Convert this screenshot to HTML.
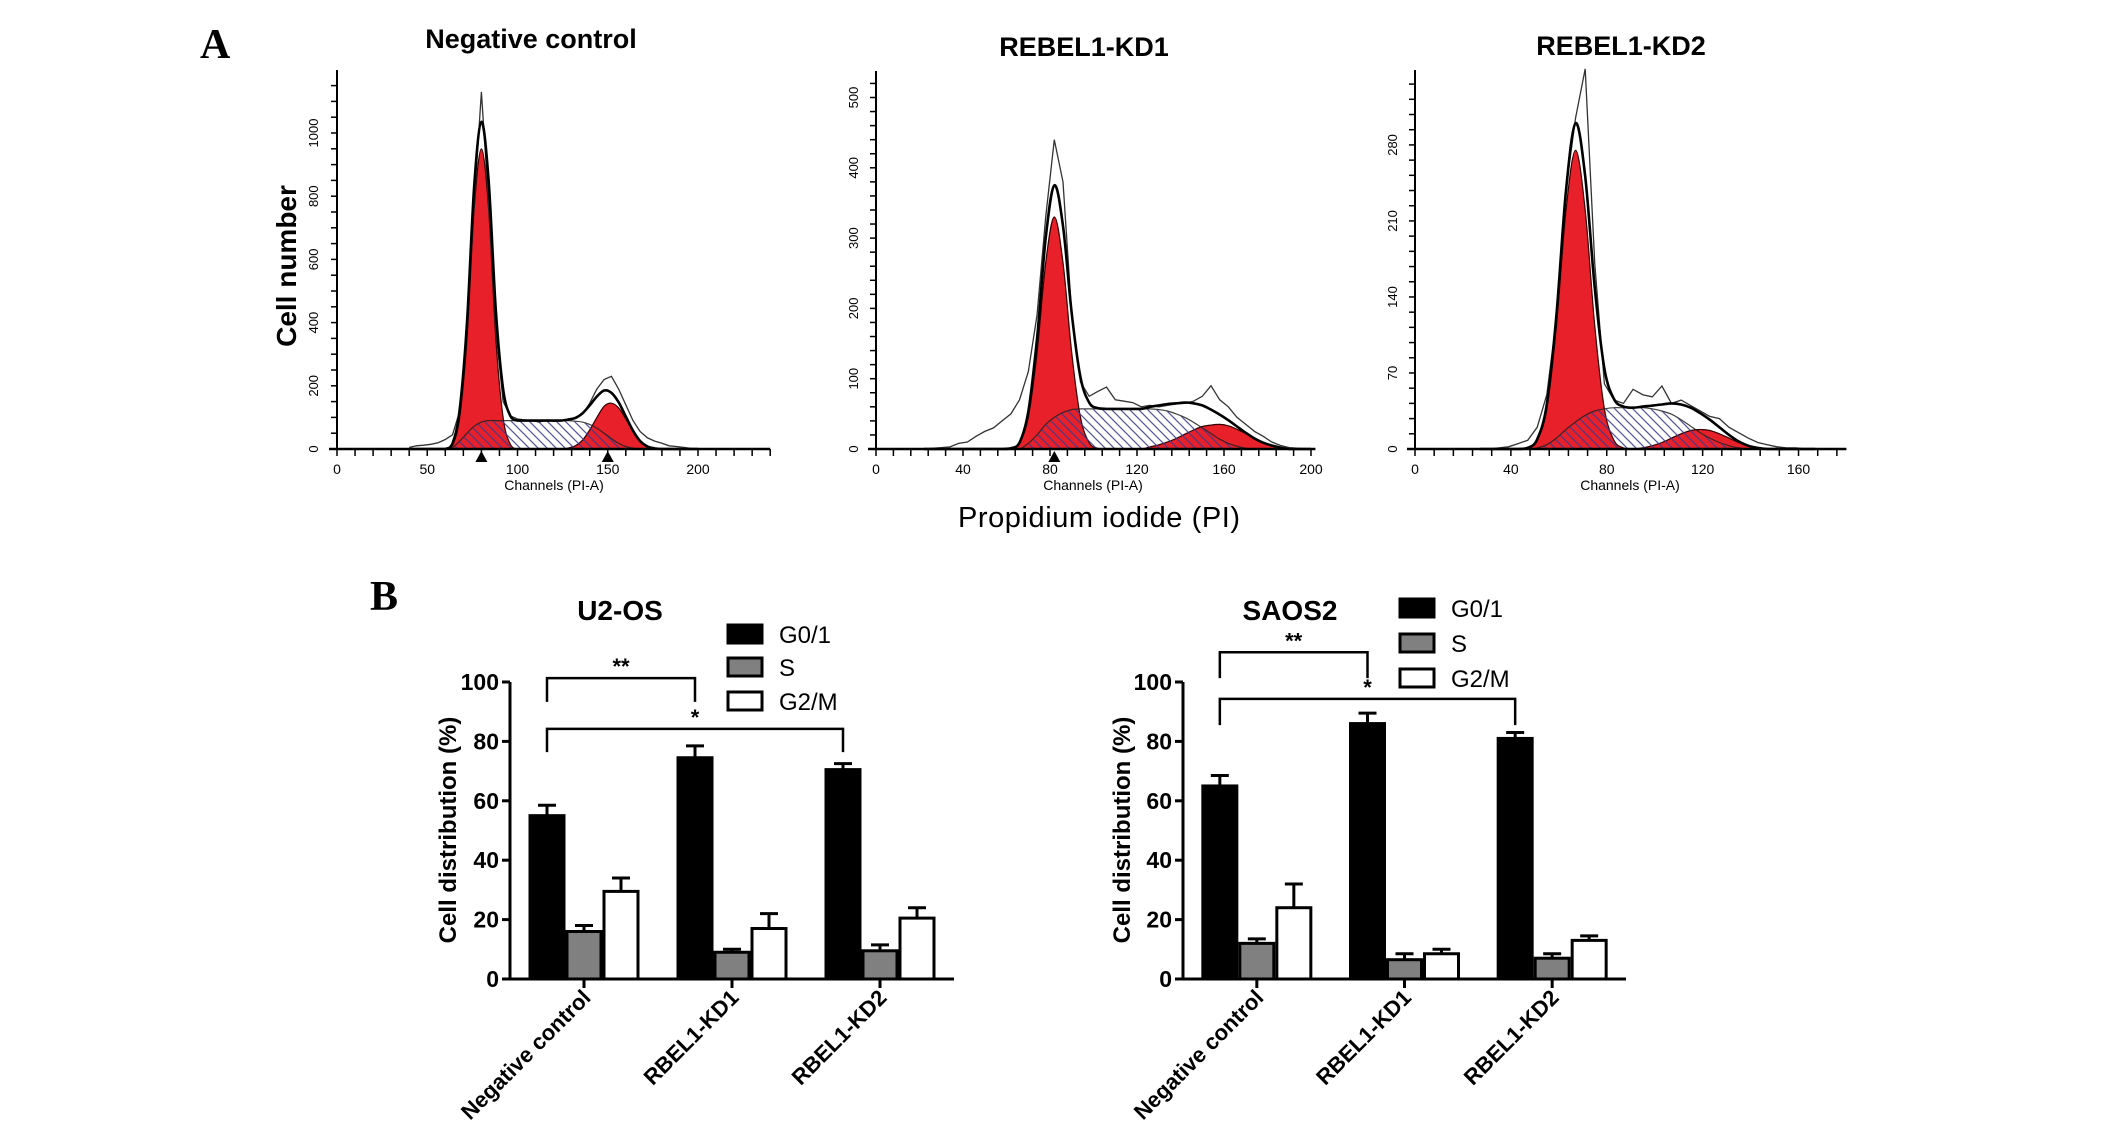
<!DOCTYPE html>
<html><head><meta charset="utf-8">
<style>
html,body{margin:0;padding:0;background:#fff;}
svg{display:block;font-family:"Liberation Sans",Arial,sans-serif;}
</style></head>
<body>
<svg id="fig" xmlns="http://www.w3.org/2000/svg" width="2126" height="1140" viewBox="0 0 2126 1140">
<defs>
<pattern id="hatch" patternUnits="userSpaceOnUse" width="9" height="9">
<path d="M-2,-2 L11,11 M-2,7 L2,11 M7,-2 L11,2" stroke="#3b3b8f" stroke-width="1.3"/>
</pattern>
</defs>
<text x="200" y="58" font-family="Liberation Serif,serif" font-weight="bold" font-size="42">A</text>
<text x="370" y="610" font-family="Liberation Serif,serif" font-weight="bold" font-size="42">B</text>
<g id="root"></g>
</svg>
<script>
// ---------- Histogram data (panel A) ----------
const ncCh = [40,44,48,52,56,60,64,68,72,76,80,84,88,92,96,100,104,108,112,116,120,124,128,132,136,140,144,148,152,156,160,164,168,172,176,180,184,188,192,196,200];
const ncG1 = [0,0,0,0,0,0,12,100,350,760,950,760,350,100,15,0,0,0,0,0,0,0,0,0,0,0,0,0,0,0,0,0,0,0,0,0,0,0,0,0,0];
const ncS  = [0,0,0,0,0,0,5,25,50,72,85,90,90,90,90,90,90,90,90,90,90,90,90,88,85,78,66,50,33,18,8,3,0,0,0,0,0,0,0,0,0];
const ncG2 = [0,0,0,0,0,0,0,0,0,0,0,0,0,0,0,0,0,0,0,0,0,0,3,10,28,60,100,135,145,130,95,55,25,8,2,0,0,0,0,0,0];
const ncRaw= [5,10,12,15,20,30,45,120,380,780,1130,780,380,150,105,95,92,90,85,92,88,90,95,100,110,145,190,220,230,190,140,90,55,35,25,18,10,8,5,2,0];

const kd1Ch = [22,26,30,34,38,42,46,50,54,58,62,66,70,74,78,82,86,90,94,98,102,106,110,114,118,122,126,130,134,138,142,146,150,154,158,162,166,170,174,178,182,186,190,194,198,202];
const kd1G1 = [0,0,0,0,0,0,0,0,0,0,1,9,45,136,265,330,265,136,45,9,1,0,0,0,0,0,0,0,0,0,0,0,0,0,0,0,0,0,0,0,0,0,0,0,0,0];
const kd1S  = [0,0,0,0,0,0,0,0,0,0,0,0,8,20,35,45,52,56,57,57,57,57,57,57,57,57,57,56,54,50,45,38,30,22,14,8,4,1,0,0,0,0,0,0,0,0];
const kd1G2 = [0,0,0,0,0,0,0,0,0,0,0,0,0,0,0,0,0,0,0,0,0,0,0,0,0,0,3,6,10,15,21,27,32,34,35,33,28,22,15,9,5,2,0,0,0,0];
const kd1Raw= [0,1,2,3,8,10,18,25,30,40,50,70,110,190,330,440,380,190,95,75,82,88,70,68,66,60,62,60,62,64,65,68,75,90,70,60,45,35,25,18,10,5,2,1,0,0];

const kd2Ch = [27,31,35,39,43,47,51,55,59,63,67,71,75,79,83,87,91,95,99,103,107,111,115,119,123,127,131,135,139,143,147,151,155,159,163,167];
const kd2G1 = [0,0,0,0,0,1,8,37,113,220,275,220,113,37,8,1,0,0,0,0,0,0,0,0,0,0,0,0,0,0,0,0,0,0,0,0];
const kd2S  = [0,0,0,0,0,0,1,4,10,18,25,31,35,37,38,38,38,38,37,35,32,27,21,15,10,6,3,1,0,0,0,0,0,0,0,0];
const kd2G2 = [0,0,0,0,0,0,0,0,0,0,0,0,0,0,0,0,0,1,3,6,10,14,17,18,17,14,10,6,3,1,0,0,0,0,0,0];
const kd2Raw= [0,0,1,2,5,8,20,50,120,240,305,350,170,60,45,42,55,50,48,58,42,45,40,35,30,28,20,15,10,6,4,2,1,1,0,0];

const ncYTicks = [0,200,400,600,800,1000];
const ncXTicks = [0,50,100,150,200];
const kd1YTicks = [0,100,200,300,400,500];
const kd1XTicks = [0,40,80,120,160,200];
const kd2YTicks = [0,70,140,210,280];
const kd2XTicks = [0,40,80,120,160];
const ncMarkers = [80,150];
const kd1Markers = [82];
const kd2Markers = [];

// ---------- Bar chart data (panel B) ----------
const groups = ["Negative control","RBEL1-KD1","RBEL1-KD2"];
const phases = ["G0/1","S","G2/M"];
const u2G01 = [55,74.5,70.5];  const u2G01Err = [3.5,4,2];
const u2S   = [16,9,9.5];      const u2SErr   = [2,1,2];
const u2G2M = [29.5,17,20.5];  const u2G2MErr = [4.5,5,3.5];
const saG01 = [65,86,81];      const saG01Err = [3.5,3.5,2];
const saS   = [12,6.5,7];      const saSErr   = [1.5,2,1.5];
const saG2M = [24,8.5,13];     const saG2MErr = [8,1.5,1.5];
const barYTicks = [0,20,40,60,80,100];

const NS="http://www.w3.org/2000/svg";
const root=document.getElementById('root');
function mk(tag,attrs,parent){const e=document.createElementNS(NS,tag);for(const k in attrs)e.setAttribute(k,attrs[k]);(parent||root).appendChild(e);return e;}

function smoothPath(pts){
  let d="M"+pts[0][0]+","+pts[0][1];
  for(let i=0;i<pts.length-1;i++){
    const p0=pts[Math.max(0,i-1)],p1=pts[i],p2=pts[i+1],p3=pts[Math.min(pts.length-1,i+2)];
    const c1x=p1[0]+(p2[0]-p0[0])/6,c1y=p1[1]+(p2[1]-p0[1])/6;
    const c2x=p2[0]-(p3[0]-p1[0])/6,c2y=p2[1]-(p3[1]-p1[1])/6;
    d+=" C"+c1x.toFixed(1)+","+Math.min(c1y,Math.max(p1[1],p2[1])).toFixed(1)+" "+c2x.toFixed(1)+","+Math.min(c2y,Math.max(p1[1],p2[1])).toFixed(1)+" "+p2[0].toFixed(1)+","+p2[1].toFixed(1);
  }
  return d;
}

function histogram(cfg){
  const g=mk('g',{});
  
  
  const X=c=>cfg.x0+c*cfg.kx, Y=v=>cfg.y0-v*cfg.ky;
  const ptsOf=arr=>cfg.ch.map((c,i)=>[X(c),Y(arr[i])]);
  const closed=arr=>smoothPath(ptsOf(arr))+" L"+X(cfg.ch[cfg.ch.length-1])+","+cfg.y0+" L"+X(cfg.ch[0])+","+cfg.y0+" Z";
  const s1=mk('path',{d:closed(cfg.s),fill:'#fff',stroke:'none'},g);
  
  
  const g1=mk('path',{d:closed(cfg.g1),fill:'#e8202a',stroke:'#300',"stroke-width":1.2},g);
  
  
  const g2=mk('path',{d:closed(cfg.g2),fill:'#e8202a',stroke:'#300',"stroke-width":1.2},g);
  
  
  const s2=mk('path',{d:closed(cfg.s),fill:'url(#hatch)',stroke:'#222',"stroke-width":1.2,opacity:0.85},g);
  
  
  const raw=mk('polyline',{points:ptsOf(cfg.raw).map(p=>p[0].toFixed(1)+","+p[1].toFixed(1)).join(" "),fill:'none',stroke:'#333',"stroke-width":1.3},g);
  
  
  const fit=cfg.g1.map((v,i)=>v+cfg.s[i]+cfg.g2[i]);
  const fl=mk('path',{d:smoothPath(ptsOf(fit)),fill:'none',stroke:'#000',"stroke-width":2.6},g);
  
  
  const ya=mk('line',{x1:cfg.x0,y1:cfg.y0,x2:cfg.x0,y2:cfg.top,stroke:'#000',"stroke-width":2},g);
  
  
  const xa=mk('line',{x1:cfg.x0-8,y1:cfg.y0,x2:X(cfg.xmax),y2:cfg.y0,stroke:'#000',"stroke-width":2.5},g);
  
  
  for(let v=0;Y(v)>=cfg.top;v+=cfg.yMinor){
    const t=mk('line',{x1:cfg.x0-6,y1:Y(v),x2:cfg.x0,y2:Y(v),stroke:'#000',"stroke-width":1.5},g);
    
    
  }
  for(let c=0;c<=cfg.xmax+0.01;c+=cfg.xMinor){
    const t=mk('line',{x1:X(c),y1:cfg.y0,x2:X(c),y2:cfg.y0+7,stroke:'#000',"stroke-width":1.5},g);
    
    
  }
  cfg.yTicks.forEach(v=>{
    const t=mk('text',{x:cfg.ylx,y:Y(v),"font-size":13,"text-anchor":"middle",transform:`rotate(-90 ${cfg.ylx} ${Y(v)})`},g);
    t.textContent=v;
    
    
  });
  cfg.xTicks.forEach(v=>{
    const t=mk('text',{x:X(v),y:cfg.y0+25,"font-size":14,"text-anchor":"middle"},g);
    t.textContent=v;
    
    
  });
  cfg.markers.forEach(c=>{
    const m=mk('path',{d:`M${X(c)-6},${cfg.y0+13} L${X(c)+6},${cfg.y0+13} L${X(c)},${cfg.y0+2} Z`,fill:'#000'},g);
    
    
  });
  const cl=mk('text',{x:cfg.clx,y:cfg.y0+41,"font-size":14,"text-anchor":"middle"},g);
  cl.textContent="Channels (PI-A)";
  
  
  const ti=mk('text',{x:cfg.tx,y:cfg.ty,"font-size":27,"font-weight":"bold","text-anchor":"middle"},g);
  ti.textContent=cfg.title;
  
  
}

histogram({name:'histogram-negative-control',ch:ncCh,g1:ncG1,s:ncS,g2:ncG2,raw:ncRaw,x0:337,y0:449,kx:1.805,ky:0.316,top:70,xmax:240,yMinor:50,xMinor:10,yTicks:ncYTicks,xTicks:ncXTicks,markers:ncMarkers,ylx:318,clx:554,title:'Negative control',tx:531,ty:48});
histogram({name:'histogram-kd1',ch:kd1Ch,g1:kd1G1,s:kd1S,g2:kd1G2,raw:kd1Raw,x0:876,y0:449,kx:2.175,ky:0.703,top:71,xmax:200,yMinor:20,xMinor:8,yTicks:kd1YTicks,xTicks:kd1XTicks,markers:kd1Markers,ylx:858,clx:1093,title:'REBEL1-KD1',tx:1084,ty:56});
histogram({name:'histogram-kd2',ch:kd2Ch,g1:kd2G1,s:kd2S,g2:kd2G2,raw:kd2Raw,x0:1415,y0:449,kx:2.397,ky:1.086,top:70,xmax:180,yMinor:14,xMinor:8,yTicks:kd2YTicks,xTicks:kd2XTicks,markers:kd2Markers,ylx:1397,clx:1630,title:'REBEL1-KD2',tx:1621,ty:55});

const cn=mk('text',{x:296,y:266,"font-size":28,"font-weight":"bold","text-anchor":"middle",transform:"rotate(-90 296 266)"});
cn.textContent="Cell number";


const pi=mk('text',{x:1099,y:527,"font-size":29,"text-anchor":"middle",textLength:282});
pi.textContent="Propidium iodide (PI)";



function barChart(cfg){
  const g=mk('g',{});
  
  
  const Y=v=>cfg.y0-v*cfg.ky;
  const band=(cfg.xEnd-cfg.x0)/groups.length;
  const gc=i=>cfg.x0+band*(i+0.5);
  const bw=37;
  const fills=['#000','#808080','#fff'];
  const series=[cfg.a,cfg.b,cfg.c], errs=[cfg.ae,cfg.be,cfg.ce];
  groups.forEach((gname,i)=>{
    series.forEach((s,j)=>{
      const cx=gc(i)+(j-1)*bw;
      const e=mk('line',{x1:cx,y1:Y(s[i]),x2:cx,y2:Y(s[i]+errs[j][i]),stroke:'#000',"stroke-width":3},g);
      
      
      const cap=mk('line',{x1:cx-9,y1:Y(s[i]+errs[j][i]),x2:cx+9,y2:Y(s[i]+errs[j][i]),stroke:'#000',"stroke-width":3},g);
      
      
      const r=mk('rect',{x:cx-bw/2+1.5,y:Y(s[i]),width:bw-3,height:cfg.y0-Y(s[i]),fill:fills[j],stroke:'#000',"stroke-width":3},g);
      
      
    });
    const t=mk('line',{x1:gc(i),y1:cfg.y0,x2:gc(i),y2:cfg.y0+9,stroke:'#000',"stroke-width":3},g);
    
    
    const lx=gc(i)+8, ly=cfg.y0+20;
    const l=mk('text',{x:lx,y:ly,"font-size":22,"font-weight":"bold","text-anchor":"end",transform:`rotate(-45 ${lx} ${ly})`},g);
    l.textContent=gname;
    
    
  });
  const ya=mk('line',{x1:cfg.x0,y1:cfg.y0+1.5,x2:cfg.x0,y2:Y(100),stroke:'#000',"stroke-width":3},g);
  
  
  const xa=mk('line',{x1:cfg.x0,y1:cfg.y0,x2:cfg.xEnd,y2:cfg.y0,stroke:'#000',"stroke-width":3},g);
  
  
  barYTicks.forEach(v=>{
    const t=mk('line',{x1:cfg.x0-8,y1:Y(v),x2:cfg.x0,y2:Y(v),stroke:'#000',"stroke-width":3},g);
    
    
    const tl=mk('text',{x:cfg.x0-11,y:Y(v)+8,"font-size":23,"font-weight":"bold","text-anchor":"end"},g);
    tl.textContent=v;
    
    
  });
  const yt=mk('text',{x:cfg.ytx,y:830,"font-size":24,"font-weight":"bold","text-anchor":"middle",transform:`rotate(-90 ${cfg.ytx} 830)`},g);
  yt.textContent="Cell distribution (%)";
  
  
  const ti=mk('text',{x:cfg.tx,y:620,"font-size":28,"font-weight":"bold","text-anchor":"middle"},g);
  ti.textContent=cfg.title;
  
  
  phases.forEach((p,j)=>{
    const cy=cfg.legY[j];
    const b=mk('rect',{x:cfg.legX,y:cy-9,width:34,height:18,fill:fills[j],stroke:'#000',"stroke-width":3},g);
    
    
    const t=mk('text',{x:cfg.legX+51,y:cy+9,"font-size":24},g);
    t.textContent=p;
    
    
  });
  const bx=i=>gc(i)-bw;
  cfg.brackets.forEach(br=>{
    const x1=bx(br.from),x2=bx(br.to),yy=Y(br.level),yd=Y(br.drop);
    const p=mk('path',{d:`M${x1},${yd} L${x1},${yy} L${x2},${yy} L${x2},${yd}`,fill:'none',stroke:'#000',"stroke-width":2.5},g);
    
    
    const t=mk('text',{x:(x1+x2)/2,y:yy-4,"font-size":22,"font-weight":"bold","text-anchor":"middle"},g);
    t.textContent=br.mark;
    
    
  });
}

barChart({name:'bar-chart-u2os',title:'U2-OS',x0:510,xEnd:954,y0:979,ky:2.97,a:u2G01,b:u2S,c:u2G2M,ae:u2G01Err,be:u2SErr,ce:u2G2MErr,ytx:456,tx:620,legX:728,legY:[634,667,701],
  brackets:[{from:0,to:1,level:101.3,drop:93.3,mark:'**'},{from:0,to:2,level:84.2,drop:76.4,mark:'*'}]});
barChart({name:'bar-chart-saos2',title:'SAOS2',x0:1183,xEnd:1626,y0:979,ky:2.97,a:saG01,b:saS,c:saG2M,ae:saG01Err,be:saSErr,ce:saG2MErr,ytx:1130,tx:1290,legX:1400,legY:[608,643,678],
  brackets:[{from:0,to:1,level:110,drop:101.3,mark:'**'},{from:0,to:2,level:94.3,drop:85.5,mark:'*'}]});
</script>
</body></html>
